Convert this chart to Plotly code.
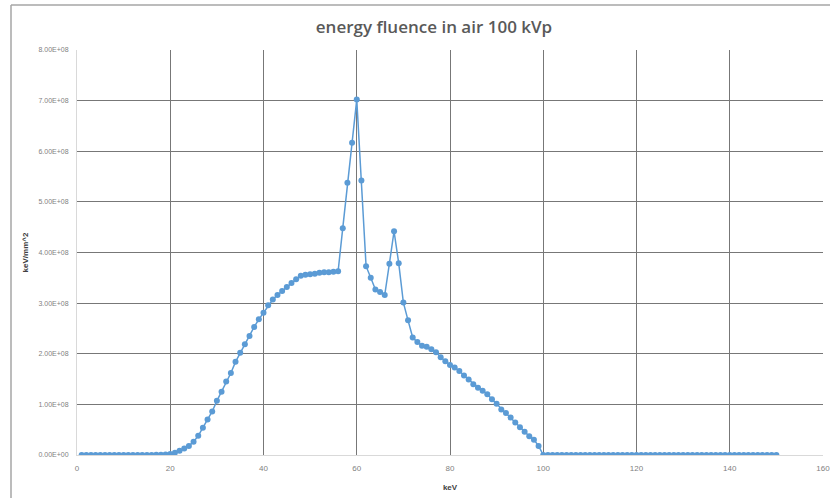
import plotly.graph_objects as go

kev = list(range(1, 151))
fluence_e8 = (
    [0.0] * 16 +
    [0.003, 0.006, 0.01, 0.02, 0.045, 0.085, 0.13, 0.18, 0.26, 0.38,
     0.54, 0.70, 0.86, 1.07, 1.25, 1.45, 1.62, 1.84, 2.02, 2.19,
     2.35, 2.53, 2.68, 2.81, 2.96, 3.07, 3.16, 3.24, 3.32, 3.40,
     3.47, 3.54, 3.56, 3.57, 3.58, 3.60, 3.61, 3.61, 3.62, 3.63,
     4.48, 5.38, 6.17, 7.02, 5.42, 3.73, 3.50, 3.27, 3.22, 3.16,
     3.78, 4.42, 3.79, 3.01, 2.66, 2.32, 2.23, 2.16, 2.14, 2.09,
     2.03, 1.93, 1.85, 1.78, 1.73, 1.66, 1.57, 1.49, 1.40, 1.33,
     1.27, 1.20, 1.10, 1.01, 0.90, 0.83, 0.74, 0.64, 0.55, 0.46,
     0.37, 0.30, 0.18, 0.0] +
    [0.0] * 50
)
fluence = [v * 1e8 for v in fluence_e8]

y_ticks = [i * 1e8 for i in range(9)]
y_tick_labels = ["0.00E+00", "1.00E+08", "2.00E+08", "3.00E+08", "4.00E+08",
                 "5.00E+08", "6.00E+08", "7.00E+08", "8.00E+08"]
x_ticks = [0, 20, 40, 60, 80, 100, 120, 140, 160]

fig = go.Figure()
fig.add_trace(go.Scatter(
    x=kev, y=fluence, mode="lines+markers",
    line=dict(color="#5B9BD5", width=1.5),
    marker=dict(color="#5B9BD5", size=6),
    showlegend=False,
))

L, R, T, B = 77, 7, 50, 43
W, H = 830, 498
pw, ph = W - L - R, H - T - B

fig.update_layout(
    width=W, height=H,
    margin=dict(l=L, r=R, t=T, b=B, autoexpand=False),
    paper_bgcolor="white", plot_bgcolor="white",
    title=dict(text="energy fluence in air 100 kVp",
               x=434 / W, xanchor="center", y=1 - 27 / H, yanchor="middle",
               font=dict(family="Open Sans, Liberation Sans, sans-serif", size=17,
                         color="#595959", weight=600)),
    xaxis=dict(range=[0, 160], tickvals=x_ticks, showgrid=True, gridcolor="#777777", gridwidth=1,
               zeroline=False, showline=True, linecolor="#d9d9d9", linewidth=1, mirror=False,
               ticks="", ticklabelstandoff=5, ticklabeloverflow="allow", automargin=False,
               tickfont=dict(family="Liberation Sans, sans-serif", size=8, color="#7f7f7f"),
               title=dict(text="<b>keV</b>", standoff=12,
                          font=dict(family="Liberation Sans, sans-serif", size=8, color="#404040"))),
    yaxis=dict(range=[0, 8e8], tickvals=y_ticks, ticktext=y_tick_labels, showgrid=True,
               gridcolor="#777777", gridwidth=1, zeroline=False, showline=True, linecolor="#d9d9d9",
               linewidth=1, ticks="", ticklabelstandoff=6, automargin=False,
               tickfont=dict(family="Liberation Sans, sans-serif", size=7, color="#7f7f7f"),
               title=dict(text="<b>keV/mm^2</b>", standoff=8,
                          font=dict(family="Liberation Sans, sans-serif", size=8, color="#404040"))),
)

# outer chart frame (top and left edges visible)
fig.add_shape(type="line", xref="paper", yref="paper",
              x0=(11 - L) / pw, x1=(W + 5 - L) / pw, y0=(H - B - 5) / ph, y1=(H - B - 5) / ph,
              line=dict(color="#a6a6a6", width=1.5))
fig.add_shape(type="line", xref="paper", yref="paper",
              x0=(11 - L) / pw, x1=(11 - L) / pw, y0=(H - B - 5) / ph, y1=-(B + 5) / ph,
              line=dict(color="#a6a6a6", width=1.5))

fig.write_html("out.html")
